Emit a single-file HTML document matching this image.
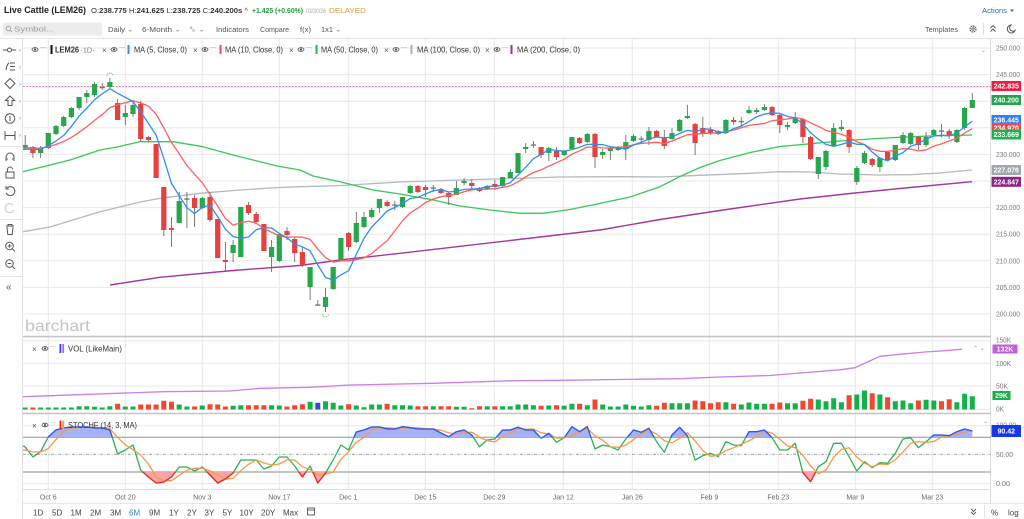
<!DOCTYPE html>
<html><head><meta charset="utf-8">
<style>
html,body{margin:0;padding:0;background:#fff;overflow:hidden;}
svg{display:block;font-family:"Liberation Sans",sans-serif;}
</style></head><body>
<svg width="1024" height="519" viewBox="0 0 1024 519" xmlns="http://www.w3.org/2000/svg">
<defs>
<clipPath id="plot"><rect x="23" y="39" width="968" height="297"/></clipPath>
<clipPath id="above80"><rect x="23" y="414" width="968" height="23.3"/></clipPath>
<clipPath id="below20"><rect x="23" y="472" width="968" height="17"/></clipPath>
<polyline id="kp" points="23,446 25.2,447 32.9,457 40.6,451.7 48.3,437 56,430 63.7,428 71.4,427 79.1,427 86.8,427 94.5,428 102.2,428 109.9,430 117.6,454 125.3,450 133,445 140.7,470 148.4,477 156.1,483 163.8,482 171.5,477 179.2,467 186.9,467 194.6,471 202.3,467 210,475 217.7,483 225.4,479 233.1,473 240.8,460 248.5,460 256.2,460 263.9,469 271.6,466 279.3,457 287,457 294.7,466 302.4,477 310.1,466 317.8,483 325.5,473 333.2,460 340.9,445 348.6,450 356.3,432 364,430 371.7,427 379.4,427 387.1,429 394.8,429 402.5,426.7 410.2,427.7 417.9,429 425.6,429 433.3,429 441,433 448.7,436.7 456.4,431.7 464.1,430 471.8,435 479.5,446.7 487.2,440 494.9,439 502.6,430 510.3,430 518,427.3 525.7,430 533.4,430 541.1,438.3 548.8,433.3 556.5,442.3 564.2,437.7 571.9,426.7 579.6,431.7 587.3,426.7 595,449 602.7,445 610.4,446.7 618.1,450 625.8,439 633.5,430 641.2,432.3 648.9,428.3 656.6,441.7 664.3,452.3 672,435 679.7,427.3 687.4,435.7 695.1,460 702.8,455.7 710.5,453.3 718.2,456.7 725.9,441.7 733.6,445 741.3,445.7 749,431.7 756.7,431.7 764.4,430 772.1,437.7 779.8,450 787.5,450 795.2,443.3 802.9,472.7 810.6,481.7 818.3,466.7 826,461.7 833.7,443.3 841.4,443.3 849.1,456.7 856.8,471 864.5,461.7 872.2,467.7 879.9,462.7 887.6,463.3 895.3,453.3 903,439 910.7,437.7 918.4,447.7 926.1,441.7 933.8,435 941.5,435 949.2,435.7 956.9,431.7 964.6,429 972.3,431"/>
</defs>
<rect width="1024" height="519" fill="#fff"/>

<!-- header -->
<text x="4" y="13" font-size="9.5" font-weight="bold" fill="#222" textLength="82" lengthAdjust="spacingAndGlyphs">Live Cattle (LEM26)</text>
<text x="91" y="13" font-size="7.3" fill="#333" textLength="157" lengthAdjust="spacingAndGlyphs">O:<tspan font-weight="bold">238.775</tspan> H:<tspan font-weight="bold">241.625</tspan> L:<tspan font-weight="bold">238.725</tspan> C:<tspan font-weight="bold">240.200s</tspan> ^</text>
<text x="252" y="13" font-size="7.3" font-weight="bold" fill="#1e9e3e" textLength="51" lengthAdjust="spacingAndGlyphs">+1.425 (+0.60%)</text>
<text x="306" y="13" font-size="6.3" fill="#a8a8a8" textLength="20" lengthAdjust="spacingAndGlyphs">03/30/26</text>
<text x="329" y="13" font-size="7.5" fill="#e0983a" textLength="37" lengthAdjust="spacingAndGlyphs">DELAYED</text>
<text x="982" y="13" font-size="7.5" fill="#2f6db3" textLength="25" lengthAdjust="spacingAndGlyphs">Actions</text>
<path d="M1010,9.5 l4,0 l-2,2.5z" fill="#2f6db3"/>

<!-- toolbar row -->
<rect x="3" y="22.5" width="99" height="13" rx="2" fill="#ececec"/>
<circle cx="8.5" cy="28.5" r="2.3" fill="none" stroke="#999" stroke-width="0.8"/>
<line x1="10.2" y1="30.2" x2="12" y2="32" stroke="#999" stroke-width="0.8"/>
<text x="14" y="31.5" font-size="7" fill="#9a9a9a" textLength="40" lengthAdjust="spacingAndGlyphs">Symbol...</text>
<g font-size="7.5" fill="#555">
<text x="108" y="32" textLength="17" lengthAdjust="spacingAndGlyphs">Daily</text>
<text x="128" y="31.5" font-size="6">⌄</text>
<text x="142" y="32" textLength="30" lengthAdjust="spacingAndGlyphs">6-Month</text>
<text x="175" y="31.5" font-size="6">⌄</text>
<text x="190" y="31" font-size="6">⁰ₒ</text>
<text x="199" y="31.5" font-size="6">⌄</text>
<text x="216" y="32" textLength="33" lengthAdjust="spacingAndGlyphs">Indicators</text>
<text x="260" y="32" textLength="29" lengthAdjust="spacingAndGlyphs">Compare</text>
<text x="300" y="32" textLength="11" lengthAdjust="spacingAndGlyphs">f(x)</text>
<text x="321" y="32" textLength="12" lengthAdjust="spacingAndGlyphs">1x1</text>
<text x="336" y="31.5" font-size="6">⌄</text>
<text x="925" y="32" textLength="33" lengthAdjust="spacingAndGlyphs">Templates</text>
</g>
<circle cx="973" cy="29" r="3" fill="none" stroke="#555" stroke-width="1.2" stroke-dasharray="1.5,0.8"/>
<circle cx="973" cy="29" r="1.2" fill="none" stroke="#555" stroke-width="0.8"/>
<line x1="983.5" y1="23" x2="983.5" y2="35" stroke="#ddd"/>
<path d="M990.5,28 l2.5,-2.5 l2.5,2.5 M990.5,31.5 l2.5,-2.5 l2.5,2.5" fill="none" stroke="#555" stroke-width="0.9"/>
<path d="M1011,25 a4,4 0 1 0 4,5.5 a3,3 0 0 1 -4,-5.5z" fill="none" stroke="#555" stroke-width="1"/>

<!-- frame lines -->
<line x1="0" y1="38.5" x2="1024" y2="38.5" stroke="#e2e2e2"/>
<line x1="22.5" y1="38.5" x2="22.5" y2="519" stroke="#e2e2e2"/>

<!-- grid -->
<g stroke="#e8e8e8" stroke-width="1">
<line x1="48.3" y1="39" x2="48.3" y2="489"/><line x1="125.3" y1="39" x2="125.3" y2="489"/>
<line x1="202.3" y1="39" x2="202.3" y2="489"/><line x1="279.3" y1="39" x2="279.3" y2="489"/>
<line x1="348.3" y1="39" x2="348.3" y2="489"/><line x1="425.3" y1="39" x2="425.3" y2="489"/>
<line x1="494.3" y1="39" x2="494.3" y2="489"/><line x1="563.3" y1="39" x2="563.3" y2="489"/>
<line x1="632.3" y1="39" x2="632.3" y2="489"/><line x1="709.3" y1="39" x2="709.3" y2="489"/>
<line x1="778.3" y1="39" x2="778.3" y2="489"/><line x1="855.3" y1="39" x2="855.3" y2="489"/>
<line x1="932.3" y1="39" x2="932.3" y2="489"/>
<line x1="23" y1="48" x2="991" y2="48"/><line x1="23" y1="74.6" x2="991" y2="74.6"/>
<line x1="23" y1="101.2" x2="991" y2="101.2"/><line x1="23" y1="127.8" x2="991" y2="127.8"/>
<line x1="23" y1="154.4" x2="991" y2="154.4"/><line x1="23" y1="181" x2="991" y2="181"/>
<line x1="23" y1="207.6" x2="991" y2="207.6"/><line x1="23" y1="234.2" x2="991" y2="234.2"/>
<line x1="23" y1="260.8" x2="991" y2="260.8"/><line x1="23" y1="287.4" x2="991" y2="287.4"/>
<line x1="23" y1="314" x2="991" y2="314"/>
<line x1="23" y1="340.7" x2="991" y2="340.7"/><line x1="23" y1="363.3" x2="991" y2="363.3"/>
<line x1="23" y1="386" x2="991" y2="386"/><line x1="23" y1="409.5" x2="991" y2="409.5"/>
<line x1="23" y1="425.8" x2="991" y2="425.8"/><line x1="23" y1="483.6" x2="991" y2="483.6"/>
</g>
<line x1="990.5" y1="39" x2="990.5" y2="503" stroke="#dedede"/>
<line x1="23" y1="336.5" x2="991" y2="336.5" stroke="#c4c4c4" stroke-width="1.6"/>
<line x1="23" y1="413.5" x2="991" y2="413.5" stroke="#c4c4c4" stroke-width="1.6"/>
<line x1="23" y1="489.5" x2="991" y2="489.5" stroke="#e0e0e0"/>
<line x1="23" y1="503.5" x2="1024" y2="503.5" stroke="#e6e6e6"/>

<!-- stoch reference lines -->
<line x1="23" y1="437.3" x2="991" y2="437.3" stroke="#8c8c8c" stroke-width="1"/>
<line x1="23" y1="454.3" x2="991" y2="454.3" stroke="#9a9a9a" stroke-width="0.8" stroke-dasharray="3,1.5,1,1.5"/>
<line x1="23" y1="472" x2="991" y2="472" stroke="#bdbdbd" stroke-width="1.8"/>

<!-- watermark -->
<text x="25" y="331" font-size="16" fill="#c4c4c4" textLength="65" lengthAdjust="spacingAndGlyphs">barchart</text>

<!-- dotted high line -->
<line x1="23" y1="86.5" x2="991" y2="86.5" stroke="#ff6f8c" stroke-width="0.9" stroke-dasharray="1.6,1.6"/>

<!-- main plot -->
<g clip-path="url(#plot)" fill="none" stroke-linejoin="round">
<polyline stroke="#b3b9be" stroke-width="1.3" points="23,231.7 50,227 100,211.7 140,202 160,198.3 200,193.3 240,190 270,188 300,186.7 340,185.6 400,182 460,180 520,178.3 560,177 620,176.7 660,177 700,175.3 750,173.3 780,171.7 810,172 840,174 880,175 910,174.7 940,173 972,170"/>
<polyline stroke="#a3399e" stroke-width="1.4" points="110,285 160,277.3 233,270.5 300,265.5 340,260 400,253.3 500,241.7 600,230 660,219.5 730,209 800,199 850,193.5 910,187.5 972,181.7"/>
<polyline stroke="#3cc55a" stroke-width="1.3" points="23,171.7 50,165 70,160 100,150 117,147 140,141.7 173,141.7 203,146.7 233,155 277,166 300,170 313,176 340,181.7 373,190 400,194 430,199.3 460,206 490,210 520,213.3 543,213.3 570,209.5 597,204 630,197 660,186.7 680,176.5 700,167.5 720,160.5 750,152.5 780,146.5 810,143.8 840,141 870,139 900,137.2 930,136 972,135"/>
<path stroke="#6f6f6f" stroke-width="0.9" d="M25.2,135V150M32.9,146V158M40.6,146V158M48.3,133V149M56,125V135M63.7,116V127M71.4,107V118M79.1,97V110M86.8,90V103M94.5,82V97M102.2,83V90M109.9,78V88M117.6,99V120M125.3,105V125M133,100V117M140.7,101V141M148.4,136V142M156.1,144V178M163.8,187V236M171.5,217V247M179.2,192V223M186.9,192V228M194.6,195V227M202.3,197V209M210,192V222M217.7,219V258M225.4,242V272M233.1,240V262M240.8,207V257M248.5,202V215M256.2,212V223M263.9,224V251M271.6,240V272M279.3,234V262M287,227V240M294.7,237V262M302.4,247V267M310.1,267V300M317.8,300V306M325.5,288V312M333.2,267V290M340.9,238V261M348.6,232V251M356.3,212V243M364,212V228M371.7,208V218M379.4,199V213M387.1,200V207M394.8,201V210M402.5,197V208M410.2,185V194M417.9,185V193M425.6,185V197M433.3,185V192M441,188V194M448.7,192V205M456.4,181V195M464.1,178V185M471.8,179V190M479.5,187V192M487.2,185V190M494.9,180V190M502.6,177V187M510.3,169V178M518,153V173M525.7,143V153M533.4,141V148M541.1,147V158M548.8,147V161M556.5,147V160M564.2,150V156M571.9,137V150M579.6,137V144M587.3,133V143M595,133V168M602.7,149V159M610.4,147V160M618.1,146V151M625.8,135V160M633.5,134V142M641.2,136V143M648.9,127V145M656.6,130V138M664.3,130V149M672,128V140M679.7,119V132M687.4,105V119M695.1,123V155M702.8,117V137M710.5,127V135M718.2,130V135M725.9,119V134M733.6,117V125M741.3,117V126M749,106V114M756.7,108V114M764.4,104V111M772.1,106V116M779.8,114V133M787.5,122V130M795.2,112V124M802.9,118V143M810.6,136V160M818.3,157V179M826,150V170M833.7,123V147M841.4,120V131M849.1,129V153M856.8,166V185M864.5,151V164M872.2,158V167M879.9,157V172M887.6,151V161M895.3,145V161M903,132V144M910.7,132V145M918.4,136V150M926.1,132V147M933.8,129V136M941.5,124V137M949.2,129V139M956.9,129V143M964.6,107V130M972.3,93V108"/>
<path stroke="none" fill="#27a74b" d="M22.6,145h5.2v3h-5.2zM38,148h5.2v5h-5.2zM45.7,133h5.2v15h-5.2zM53.4,126h5.2v8h-5.2zM61.1,117h5.2v9h-5.2zM68.8,108h5.2v9h-5.2zM76.5,97h5.2v11h-5.2zM84.2,93h5.2v4h-5.2zM91.9,84h5.2v11h-5.2zM107.3,82h5.2v5h-5.2zM122.7,113h5.2v4h-5.2zM130.4,105h5.2v9h-5.2zM176.6,201h5.2v22h-5.2zM199.7,198h5.2v10h-5.2zM230.5,245h5.2v8h-5.2zM238.2,207h5.2v50h-5.2zM269,247h5.2v10h-5.2zM276.7,234h5.2v27h-5.2zM307.5,267h5.2v20h-5.2zM322.9,297h5.2v10h-5.2zM330.6,267h5.2v22h-5.2zM338.3,238h5.2v22h-5.2zM353.7,223h5.2v19h-5.2zM361.4,217h5.2v10h-5.2zM369.1,210h5.2v7h-5.2zM376.8,199h5.2v9h-5.2zM399.9,197h5.2v10h-5.2zM407.6,186h5.2v7h-5.2zM453.8,188h5.2v7h-5.2zM461.5,181h5.2v2h-5.2zM484.6,186h5.2v3h-5.2zM500,177h5.2v9h-5.2zM507.7,172h5.2v6h-5.2zM515.4,153h5.2v20h-5.2zM523.1,147h5.2v2h-5.2zM546.2,148h5.2v5h-5.2zM561.6,151h5.2v4h-5.2zM569.3,137h5.2v12h-5.2zM584.7,134h5.2v8h-5.2zM600.1,152h5.2v3h-5.2zM607.8,148h5.2v3h-5.2zM615.5,147h5.2v3h-5.2zM623.2,142h5.2v7h-5.2zM630.9,136h5.2v5h-5.2zM646.3,131h5.2v9h-5.2zM669.4,133h5.2v6h-5.2zM677.1,120h5.2v11h-5.2zM684.8,116h5.2v2h-5.2zM723.3,120h5.2v13h-5.2zM746.4,110h5.2v3h-5.2zM754.1,110h5.2v2h-5.2zM761.8,107h5.2v3h-5.2zM784.9,125h5.2v2h-5.2zM792.6,118h5.2v5h-5.2zM815.7,157h5.2v17h-5.2zM823.4,151h5.2v16h-5.2zM831.1,128h5.2v18h-5.2zM838.8,127h5.2v2h-5.2zM854.2,168h5.2v14h-5.2zM861.9,153h5.2v10h-5.2zM877.3,158h5.2v9h-5.2zM892.7,145h5.2v15h-5.2zM900.4,135h5.2v8h-5.2zM908.1,133h5.2v11h-5.2zM923.5,137h5.2v8h-5.2zM931.2,130h5.2v5h-5.2zM954.3,130h5.2v12h-5.2zM962,108h5.2v20h-5.2zM969.7,100h5.2v8h-5.2z"/>
<path stroke="none" fill="#e8403f" d="M30.3,147h5.2v6h-5.2zM115,103h5.2v17h-5.2zM138.1,104h5.2v35h-5.2zM145.8,137h5.2v3h-5.2zM153.5,144h5.2v34h-5.2zM161.2,187h5.2v43h-5.2zM168.9,228h5.2v2h-5.2zM192,198h5.2v10h-5.2zM207.4,197h5.2v23h-5.2zM215.1,219h5.2v39h-5.2zM222.8,260h5.2v2h-5.2zM245.9,205h5.2v8h-5.2zM253.6,214h5.2v8h-5.2zM261.3,224h5.2v27h-5.2zM284.4,231h5.2v4h-5.2zM292.1,239h5.2v14h-5.2zM299.8,252h5.2v13h-5.2zM346,233h5.2v14h-5.2zM384.5,202h5.2v4h-5.2zM415.3,186h5.2v6h-5.2zM423,187h5.2v3h-5.2zM438.4,189h5.2v4h-5.2zM446.1,193h5.2v4h-5.2zM469.2,183h5.2v3h-5.2zM476.9,188h5.2v3h-5.2zM492.3,184h5.2v3h-5.2zM538.5,147h5.2v8h-5.2zM553.9,151h5.2v6h-5.2zM577,138h5.2v5h-5.2zM592.4,134h5.2v23h-5.2zM654,131h5.2v6h-5.2zM661.7,137h5.2v9h-5.2zM692.5,124h5.2v19h-5.2zM700.2,128h5.2v6h-5.2zM707.9,130h5.2v3h-5.2zM715.6,131h5.2v3h-5.2zM731,120h5.2v2h-5.2zM769.5,107h5.2v8h-5.2zM777.2,115h5.2v10h-5.2zM800.3,119h5.2v18h-5.2zM808,137h5.2v22h-5.2zM846.5,130h5.2v17h-5.2zM869.6,159h5.2v6h-5.2zM885,152h5.2v8h-5.2zM915.8,137h5.2v8h-5.2zM946.6,131h5.2v5h-5.2z"/>
<path stroke="none" fill="#777" d="M99.6,86.9h5.2v1.3h-5.2zM184.3,198.4h5.2v1.3h-5.2zM315.2,304.4h5.2v1.3h-5.2zM392.2,204.4h5.2v1.3h-5.2zM430.7,187.4h5.2v1.3h-5.2zM530.8,144.4h5.2v1.3h-5.2zM638.6,138.4h5.2v1.3h-5.2zM738.7,120.9h5.2v1.3h-5.2zM938.9,130.4h5.2v1.3h-5.2z"/>
<polyline stroke="#ff5e5e" stroke-width="1.3" points="23,147.7 25.2,147.7 32.9,148.2 40.6,148.2 48.3,146.7 56,144.5 63.7,141.4 71.4,137.4 79.1,132.3 86.8,126.8 94.5,120.4 102.2,114.7 109.9,107.6 117.6,104.8 125.3,102.8 133,100.7 140.7,102.9 148.4,106.1 156.1,114.2 163.8,127.9 171.5,142.5 179.2,153.8 186.9,165.5 194.6,174.3 202.3,182.8 210,194.3 217.7,206.2 225.4,218.4 233.1,225.1 240.8,222.8 248.5,221.1 256.2,223.2 263.9,228.4 271.6,232.3 279.3,235.9 287,237.4 294.7,236.9 302.4,237.2 310.1,239.4 317.8,249.2 325.5,257.6 333.2,262.1 340.9,260.8 348.6,260.8 356.3,259.7 364,257.9 371.7,253.6 379.4,247 387.1,240.9 394.8,230.9 402.5,220.9 410.2,212.8 417.9,208.2 425.6,202.5 433.3,199 441,196.6 448.7,195.3 456.4,194.2 464.1,191.7 471.8,189.8 479.5,189.2 487.2,189.2 494.9,188.7 502.6,187.4 510.3,185.8 518,181.8 525.7,176.8 533.4,172.5 541.1,169.9 548.8,166.1 556.5,162.7 564.2,159.2 571.9,154.2 579.6,150.8 587.3,147 595,147.4 602.7,147.9 610.4,148.2 618.1,147.4 625.8,146.8 633.5,144.7 641.2,143.5 648.9,142.9 656.6,142.3 664.3,143.5 672,141.1 679.7,137.9 687.4,134.7 695.1,134.3 702.8,133.5 710.5,133.2 718.2,132.7 725.9,131.6 733.6,130.1 741.3,127.7 749,125.4 756.7,124.4 764.4,123.5 772.1,120.7 779.8,119.8 787.5,119 795.2,117.4 802.9,119.1 810.6,122.8 818.3,126.3 826,130.4 833.7,132.2 841.4,134.2 849.1,137.4 856.8,141.7 864.5,144.5 872.2,149.2 879.9,151.3 887.6,151.4 895.3,150.2 903,148.6 910.7,149.1 918.4,150.9 926.1,149.9 933.8,146.1 941.5,143.9 949.2,141 956.9,138.2 964.6,133 972.3,128.5"/>
<polyline stroke="#2f8fef" stroke-width="1.3" points="23,149.5 25.2,149 32.9,149.6 40.6,149.2 48.3,145.8 56,141 63.7,135.4 71.4,126.4 79.1,116.2 86.8,108.2 94.5,99.8 102.2,93.9 109.9,88.7 117.6,93.3 125.3,97.3 133,101.5 140.7,111.8 148.4,123.4 156.1,135 163.8,158.4 171.5,183.4 179.2,195.8 186.9,207.6 194.6,213.6 202.3,207.2 210,205.2 217.7,216.6 225.4,229.2 233.1,236.6 240.8,238.4 248.5,237 256.2,229.8 263.9,227.6 271.6,228 279.3,233.4 287,237.8 294.7,244 302.4,246.8 310.1,250.8 317.8,265 325.5,277.4 333.2,280.2 340.9,274.8 348.6,270.8 356.3,254.4 364,238.4 371.7,227 379.4,219.2 387.1,211 394.8,207.4 402.5,203.4 410.2,198.6 417.9,197.2 425.6,194 433.3,190.6 441,189.8 448.7,192 456.4,191.2 464.1,189.4 471.8,189 479.5,188.6 487.2,186.4 494.9,186.2 502.6,185.4 510.3,182.6 518,175 525.7,167.2 533.4,158.8 541.1,154.4 548.8,149.6 556.5,150.4 564.2,151.2 571.9,149.6 579.6,147.2 587.3,144.4 595,144.4 602.7,144.6 610.4,146.8 618.1,147.6 625.8,149.2 633.5,145 641.2,142.4 648.9,139 656.6,137 664.3,137.8 672,137.2 679.7,133.4 687.4,130.4 695.1,131.6 702.8,129.2 710.5,129.2 718.2,132 725.9,132.8 733.6,128.6 741.3,126.1 749,121.5 756.7,116.7 764.4,114.1 772.1,112.7 779.8,113.4 787.5,116.4 795.2,118 802.9,124 810.6,132.8 818.3,139.2 826,144.4 833.7,146.4 841.4,144.4 849.1,142 856.8,144.2 864.5,144.6 872.2,152 879.9,158.2 887.6,160.8 895.3,156.2 903,152.6 910.7,146.2 918.4,143.6 926.1,139 933.8,136 941.5,135.2 949.2,135.8 956.9,132.8 964.6,127 972.3,121"/>
<path d="M107,76 a3,3 0 0 1 6,0" stroke="#44c070" stroke-width="0.9" stroke-dasharray="1,0.8"/>
<path d="M322.5,314 a3,3 0 0 0 6,0" stroke="#44c070" stroke-width="0.9" stroke-dasharray="1,0.8"/>
</g>

<!-- volume bars -->
<path fill="#14b04a" d="M22.7,407.5h5V409.5h-5zM38.1,407.5h5V409.5h-5zM45.8,407.5h5V409.5h-5zM53.5,407.5h5V409.5h-5zM61.2,407.5h5V409.5h-5zM68.9,407.5h5V409.5h-5zM76.6,406.2h5V409.5h-5zM84.3,406.2h5V409.5h-5zM92,406.8h5V409.5h-5zM99.7,407.5h5V409.5h-5zM107.4,406.2h5V409.5h-5zM122.8,406.5h5V409.5h-5zM130.5,406.5h5V409.5h-5zM176.7,404.5h5V409.5h-5zM184.4,406.5h5V409.5h-5zM199.8,405.5h5V409.5h-5zM230.6,405.8h5V409.5h-5zM238.3,405.2h5V409.5h-5zM269.1,405.2h5V409.5h-5zM276.8,405.5h5V409.5h-5zM307.6,401.8h5V409.5h-5zM323,401.2h5V409.5h-5zM330.7,402.8h5V409.5h-5zM338.4,405.5h5V409.5h-5zM353.8,405.5h5V409.5h-5zM361.5,407.2h5V409.5h-5zM369.2,404.5h5V409.5h-5zM376.9,404.5h5V409.5h-5zM392.3,405.2h5V409.5h-5zM400,405.2h5V409.5h-5zM407.7,405.5h5V409.5h-5zM430.8,406.2h5V409.5h-5zM453.9,406.8h5V409.5h-5zM461.6,406.8h5V409.5h-5zM484.7,406.2h5V409.5h-5zM500.1,406.2h5V409.5h-5zM507.8,406.2h5V409.5h-5zM515.5,404.5h5V409.5h-5zM523.2,404.5h5V409.5h-5zM530.9,405.2h5V409.5h-5zM546.3,405.5h5V409.5h-5zM561.7,405.8h5V409.5h-5zM569.4,403.8h5V409.5h-5zM584.8,405.2h5V409.5h-5zM600.2,404.5h5V409.5h-5zM607.9,406.5h5V409.5h-5zM615.6,406.5h5V409.5h-5zM623.3,404.5h5V409.5h-5zM631,405.8h5V409.5h-5zM638.7,406.5h5V409.5h-5zM646.4,405.2h5V409.5h-5zM669.5,403.2h5V409.5h-5zM677.2,403.2h5V409.5h-5zM684.9,403.2h5V409.5h-5zM723.4,402.2h5V409.5h-5zM738.8,404.5h5V409.5h-5zM746.5,402.5h5V409.5h-5zM754.2,403.8h5V409.5h-5zM761.9,403.8h5V409.5h-5zM785,403.2h5V409.5h-5zM792.7,403.2h5V409.5h-5zM815.8,399.5h5V409.5h-5zM823.5,401.2h5V409.5h-5zM831.2,398.2h5V409.5h-5zM838.9,402.2h5V409.5h-5zM854.3,394.5h5V409.5h-5zM862,390.5h5V409.5h-5zM877.4,394.5h5V409.5h-5zM892.8,401.2h5V409.5h-5zM900.5,400.5h5V409.5h-5zM908.2,403.2h5V409.5h-5zM923.6,399.8h5V409.5h-5zM931.3,400.5h5V409.5h-5zM954.4,402.2h5V409.5h-5zM962.1,393.8h5V409.5h-5zM969.8,396.2h5V409.5h-5z"/>
<path fill="#f0472f" d="M30.4,407.5h5V409.5h-5zM115.1,403.8h5V409.5h-5zM138.2,404.5h5V409.5h-5zM145.9,404.5h5V409.5h-5zM153.6,404.5h5V409.5h-5zM161.3,400.8h5V409.5h-5zM169,401.8h5V409.5h-5zM192.1,406.5h5V409.5h-5zM207.5,404.2h5V409.5h-5zM215.2,404.5h5V409.5h-5zM222.9,406.5h5V409.5h-5zM246,405.2h5V409.5h-5zM253.7,405.2h5V409.5h-5zM261.4,405.2h5V409.5h-5zM284.5,406.5h5V409.5h-5zM292.2,405.2h5V409.5h-5zM299.9,404.2h5V409.5h-5zM346.1,404.2h5V409.5h-5zM384.6,403.8h5V409.5h-5zM415.4,406.2h5V409.5h-5zM423.1,406.2h5V409.5h-5zM438.5,406.2h5V409.5h-5zM446.2,406.2h5V409.5h-5zM469.3,408.2h5V409.5h-5zM477,406.2h5V409.5h-5zM492.4,406.2h5V409.5h-5zM538.6,405.8h5V409.5h-5zM554,405.2h5V409.5h-5zM577.1,403.8h5V409.5h-5zM592.5,399.5h5V409.5h-5zM654.1,405.8h5V409.5h-5zM661.8,402.8h5V409.5h-5zM692.6,400.5h5V409.5h-5zM700.3,401.2h5V409.5h-5zM708,403.2h5V409.5h-5zM715.7,402.2h5V409.5h-5zM731.1,403.8h5V409.5h-5zM769.6,403.8h5V409.5h-5zM777.3,402.5h5V409.5h-5zM800.4,400.8h5V409.5h-5zM808.1,398.8h5V409.5h-5zM846.6,395.2h5V409.5h-5zM869.7,393.2h5V409.5h-5zM885.1,397.2h5V409.5h-5zM915.9,400.5h5V409.5h-5zM939,401.2h5V409.5h-5zM946.7,399.2h5V409.5h-5z"/>
<path fill="#2b4fd8" d="M315.3,402.8h5V409.5h-5z"/>
<polyline fill="none" stroke="#cc7fe6" stroke-width="1.3" points="23,396.7 163,391.7 230,391 260,388.3 310,387.3 350,385 433,383.3 512,380.7 560,380.3 620,379.5 680,378.7 720,377 770,375.5 800,373 840,369.8 855,367.7 880,356.3 900,354.3 925,352 945,350.7 962,349.2"/>

<!-- stochastic -->
<polygon clip-path="url(#above80)" fill="#a7b2f6" points="23,446 25.2,447 32.9,457 40.6,451.7 48.3,437 56,430 63.7,428 71.4,427 79.1,427 86.8,427 94.5,428 102.2,428 109.9,430 117.6,454 125.3,450 133,445 140.7,470 148.4,477 156.1,483 163.8,482 171.5,477 179.2,467 186.9,467 194.6,471 202.3,467 210,475 217.7,483 225.4,479 233.1,473 240.8,460 248.5,460 256.2,460 263.9,469 271.6,466 279.3,457 287,457 294.7,466 302.4,477 310.1,466 317.8,483 325.5,473 333.2,460 340.9,445 348.6,450 356.3,432 364,430 371.7,427 379.4,427 387.1,429 394.8,429 402.5,426.7 410.2,427.7 417.9,429 425.6,429 433.3,429 441,433 448.7,436.7 456.4,431.7 464.1,430 471.8,435 479.5,446.7 487.2,440 494.9,439 502.6,430 510.3,430 518,427.3 525.7,430 533.4,430 541.1,438.3 548.8,433.3 556.5,442.3 564.2,437.7 571.9,426.7 579.6,431.7 587.3,426.7 595,449 602.7,445 610.4,446.7 618.1,450 625.8,439 633.5,430 641.2,432.3 648.9,428.3 656.6,441.7 664.3,452.3 672,435 679.7,427.3 687.4,435.7 695.1,460 702.8,455.7 710.5,453.3 718.2,456.7 725.9,441.7 733.6,445 741.3,445.7 749,431.7 756.7,431.7 764.4,430 772.1,437.7 779.8,450 787.5,450 795.2,443.3 802.9,472.7 810.6,481.7 818.3,466.7 826,461.7 833.7,443.3 841.4,443.3 849.1,456.7 856.8,471 864.5,461.7 872.2,467.7 879.9,462.7 887.6,463.3 895.3,453.3 903,439 910.7,437.7 918.4,447.7 926.1,441.7 933.8,435 941.5,435 949.2,435.7 956.9,431.7 964.6,429 972.3,431 972.3,437.3 23,437.3"/>
<polygon clip-path="url(#below20)" fill="#f6a4aa" points="23,446 25.2,447 32.9,457 40.6,451.7 48.3,437 56,430 63.7,428 71.4,427 79.1,427 86.8,427 94.5,428 102.2,428 109.9,430 117.6,454 125.3,450 133,445 140.7,470 148.4,477 156.1,483 163.8,482 171.5,477 179.2,467 186.9,467 194.6,471 202.3,467 210,475 217.7,483 225.4,479 233.1,473 240.8,460 248.5,460 256.2,460 263.9,469 271.6,466 279.3,457 287,457 294.7,466 302.4,477 310.1,466 317.8,483 325.5,473 333.2,460 340.9,445 348.6,450 356.3,432 364,430 371.7,427 379.4,427 387.1,429 394.8,429 402.5,426.7 410.2,427.7 417.9,429 425.6,429 433.3,429 441,433 448.7,436.7 456.4,431.7 464.1,430 471.8,435 479.5,446.7 487.2,440 494.9,439 502.6,430 510.3,430 518,427.3 525.7,430 533.4,430 541.1,438.3 548.8,433.3 556.5,442.3 564.2,437.7 571.9,426.7 579.6,431.7 587.3,426.7 595,449 602.7,445 610.4,446.7 618.1,450 625.8,439 633.5,430 641.2,432.3 648.9,428.3 656.6,441.7 664.3,452.3 672,435 679.7,427.3 687.4,435.7 695.1,460 702.8,455.7 710.5,453.3 718.2,456.7 725.9,441.7 733.6,445 741.3,445.7 749,431.7 756.7,431.7 764.4,430 772.1,437.7 779.8,450 787.5,450 795.2,443.3 802.9,472.7 810.6,481.7 818.3,466.7 826,461.7 833.7,443.3 841.4,443.3 849.1,456.7 856.8,471 864.5,461.7 872.2,467.7 879.9,462.7 887.6,463.3 895.3,453.3 903,439 910.7,437.7 918.4,447.7 926.1,441.7 933.8,435 941.5,435 949.2,435.7 956.9,431.7 964.6,429 972.3,431 972.3,472 23,472"/>
<use href="#kp" fill="none" stroke="#2bb34f" stroke-width="1.3" stroke-linejoin="round"/>
<polyline fill="none" stroke="#f5994a" stroke-width="1.3" stroke-linejoin="round" points="23,450 25.2,450 32.9,452 40.6,451.9 48.3,448.6 56,439.6 63.7,431.7 71.4,428.3 79.1,427.3 86.8,427 94.5,427.3 102.2,427.7 109.9,428.7 117.6,437.3 125.3,444.7 133,449.7 140.7,455 148.4,464 156.1,476.7 163.8,480.7 171.5,480.7 179.2,475.3 186.9,470.3 194.6,468.3 202.3,468.3 210,471 217.7,475 225.4,479 233.1,478.3 240.8,470.7 248.5,464.3 256.2,460 263.9,463 271.6,465 279.3,464 287,460 294.7,460 302.4,466.7 310.1,469.7 317.8,475.3 325.5,474 333.2,472 340.9,459.3 348.6,451.7 356.3,442.3 364,437.3 371.7,429.7 379.4,428 387.1,427.7 394.8,428.3 402.5,428.2 410.2,427.8 417.9,427.8 425.6,428.6 433.3,429 441,430.3 448.7,432.9 456.4,433.8 464.1,432.8 471.8,432.2 479.5,437.2 487.2,440.6 494.9,441.9 502.6,436.3 510.3,433 518,429.1 525.7,429.1 533.4,429.1 541.1,432.8 548.8,433.9 556.5,438 564.2,437.8 571.9,435.6 579.6,432 587.3,428.4 595,435.8 602.7,440.2 610.4,446.9 618.1,447.2 625.8,445.2 633.5,439.7 641.2,433.8 648.9,430.2 656.6,434.1 664.3,440.8 672,443 679.7,438.2 687.4,432.7 695.1,441 702.8,450.5 710.5,456.3 718.2,455.2 725.9,450.6 733.6,447.8 741.3,444.1 749,440.8 756.7,436.4 764.4,431.1 772.1,433.1 779.8,439.2 787.5,445.9 795.2,447.8 802.9,455.3 810.6,465.9 818.3,473.7 826,470 833.7,457.2 841.4,449.4 849.1,447.8 856.8,457 864.5,463.1 872.2,466.8 879.9,464 887.6,464.6 895.3,459.8 903,451.9 910.7,443.3 918.4,441.5 926.1,442.4 933.8,441.5 941.5,437.2 949.2,435.2 956.9,434.1 964.6,432.1 972.3,430.6"/>
<g clip-path="url(#above80)"><use href="#kp" fill="none" stroke="#3353ff" stroke-width="1.3" stroke-linejoin="round"/></g>
<g clip-path="url(#below20)"><use href="#kp" fill="none" stroke="#ff2222" stroke-width="1.3" stroke-linejoin="round"/></g>

<!-- left toolbar icons -->
<g fill="none" stroke="#555" stroke-width="1">
<line x1="3" y1="50" x2="16" y2="50"/><circle cx="9.5" cy="50" r="2" fill="#fff"/>
<path d="M6,70 q1,-6 3,-7 M10,63 h5 M10,66.5 h5 M10,70 h5"/>
<path d="M10,78.5 l5,5 l-5,5 l-5,-5z"/>
<path d="M10,96 l4.5,4.5 h-2.5 v5 h-4 v-5 h-2.5z"/>
<circle cx="10" cy="118.5" r="4.8"/><path d="M10,116 v5"/>
<path d="M5,131 v9 M15,131 v9 M5,135.5 h10"/>
<path d="M6,161 v-4 a4,4 0 0 1 8,0 v4 M6,159 h2 M12,159 h2"/>
<path d="M6,172 h8 v6 h-8z M7.5,172 v-2.5 a2.5,2.5 0 0 1 5,0"/>
<path d="M7,188 a4.5,4.5 0 1 1 -0.8,5"/><path d="M6,186 v3 h3"/>
<path d="M13,205 a4.5,4.5 0 1 0 0.8,5" stroke="#c8c8c8"/>
<path d="M6,226 h8 M8,226 v-1.5 h4 v1.5 M7,227 l0.8,7.5 h4.4 l0.8,-7.5"/>
<circle cx="9.5" cy="246" r="3.8"/><path d="M12.3,248.8 l2.7,2.7 M7.7,246 h3.6 M9.5,244.2 v3.6"/>
<circle cx="9.5" cy="263.5" r="3.8"/><path d="M12.3,266.3 l2.7,2.7 M7.7,263.5 h3.6"/>
</g>
<g fill="#888" font-size="6">
<text x="19" y="52">›</text><text x="19" y="69">›</text><text x="19" y="86">›</text>
<text x="19" y="103">›</text><text x="19" y="120">›</text><text x="19" y="137">›</text>
</g>
<text x="6" y="290" font-size="10" fill="#555">«</text>
<g stroke="#e3e3e3"><line x1="0" y1="146.5" x2="22" y2="146.5"/><line x1="0" y1="219.5" x2="22" y2="219.5"/><line x1="0" y1="276.5" x2="22" y2="276.5"/></g>

<!-- main legend -->
<g font-size="8" fill="#333">
<g fill="none" stroke="#444" stroke-width="0.8">
<ellipse cx="35" cy="49.5" rx="3" ry="1.8"/><ellipse cx="114" cy="49.5" rx="3" ry="1.8"/>
<ellipse cx="205" cy="49.5" rx="3" ry="1.8"/><ellipse cx="301" cy="49.5" rx="3" ry="1.8"/>
<ellipse cx="396" cy="49.5" rx="3" ry="1.8"/><ellipse cx="497" cy="49.5" rx="3" ry="1.8"/>
</g>
<g fill="#444"><circle cx="35" cy="49.5" r="1"/><circle cx="114" cy="49.5" r="1"/><circle cx="205" cy="49.5" r="1"/><circle cx="301" cy="49.5" r="1"/><circle cx="396" cy="49.5" r="1"/><circle cx="497" cy="49.5" r="1"/></g>
<g font-size="6" fill="#666"><text x="40" y="49">···</text><text x="119" y="49">···</text><text x="210" y="49">···</text><text x="306" y="49">···</text><text x="401" y="49">···</text><text x="502" y="49">···</text></g>
<rect x="50.5" y="45" width="2" height="9" fill="#111"/>
<text x="55" y="52.5" font-weight="bold" textLength="24" lengthAdjust="spacingAndGlyphs">LEM26</text>
<text x="80.5" y="52.5" fill="#777" font-size="7" textLength="14" lengthAdjust="spacingAndGlyphs">·1D·</text>
<text x="102" y="53" fill="#555">×</text>
<rect x="127.5" y="45" width="2" height="9" fill="#2f8fef"/>
<text x="134" y="52.5" textLength="53" lengthAdjust="spacingAndGlyphs">MA (5, Close, 0)</text>
<text x="193" y="53" fill="#555">×</text>
<rect x="219.5" y="45" width="2" height="9" fill="#ff4b4b"/>
<text x="225" y="52.5" textLength="58" lengthAdjust="spacingAndGlyphs">MA (10, Close, 0)</text>
<text x="289" y="53" fill="#555">×</text>
<rect x="315.5" y="45" width="2" height="9" fill="#22b94a"/>
<text x="321" y="52.5" textLength="57" lengthAdjust="spacingAndGlyphs">MA (50, Close, 0)</text>
<text x="384" y="53" fill="#555">×</text>
<rect x="410.5" y="45" width="2" height="9" fill="#a9b3ba"/>
<text x="417" y="52.5" textLength="63" lengthAdjust="spacingAndGlyphs">MA (100, Close, 0)</text>
<text x="485" y="53" fill="#555">×</text>
<rect x="510.5" y="45" width="2" height="9" fill="#a0309b"/>
<text x="517" y="52.5" textLength="63" lengthAdjust="spacingAndGlyphs">MA (200, Close, 0)</text>
</g>
<text x="981" y="52" font-size="6" fill="#999">⌄</text>

<!-- volume legend -->
<g font-size="8" fill="#333">
<text x="32" y="352" fill="#555">×</text>
<ellipse cx="45" cy="348.5" rx="3" ry="1.8" fill="none" stroke="#444" stroke-width="0.8"/><circle cx="45" cy="348.5" r="1" fill="#444"/>
<text x="50" y="348" font-size="6" fill="#666">···</text>
<rect x="59.5" y="344" width="1.8" height="9" fill="#2d46d8"/><rect x="62.3" y="344" width="1.8" height="9" fill="#c35de0"/>
<text x="68" y="351.5" textLength="54" lengthAdjust="spacingAndGlyphs">VOL (LikeMain)</text>
</g>
<!-- stoch legend -->
<g font-size="8" fill="#333">
<text x="32" y="428.5" fill="#555">×</text>
<ellipse cx="45" cy="425" rx="3" ry="1.8" fill="none" stroke="#444" stroke-width="0.8"/><circle cx="45" cy="425" r="1" fill="#444"/>
<text x="50" y="424.5" font-size="6" fill="#666">···</text>
<rect x="59.5" y="420.5" width="1.8" height="9" fill="#ff2020"/><rect x="62.3" y="420.5" width="1.8" height="9" fill="#f59a4a"/>
<text x="68" y="428" textLength="69" lengthAdjust="spacingAndGlyphs">STOCHF (14, 3, MA)</text>
</g>

<!-- right axis labels -->
<g font-size="7" fill="#7a7a7a">
<text x="996" y="50.5" textLength="24" lengthAdjust="spacingAndGlyphs">250.000</text>
<text x="996" y="77" textLength="24" lengthAdjust="spacingAndGlyphs">245.000</text>
<text x="996" y="157" textLength="24" lengthAdjust="spacingAndGlyphs">230.000</text>
<text x="996" y="210" textLength="24" lengthAdjust="spacingAndGlyphs">220.000</text>
<text x="996" y="236.7" textLength="24" lengthAdjust="spacingAndGlyphs">215.000</text>
<text x="996" y="263.3" textLength="24" lengthAdjust="spacingAndGlyphs">210.000</text>
<text x="996" y="290" textLength="24" lengthAdjust="spacingAndGlyphs">205.000</text>
<text x="996" y="316.5" textLength="24" lengthAdjust="spacingAndGlyphs">200.000</text>
<text x="996" y="342.5" textLength="15" lengthAdjust="spacingAndGlyphs">150K</text>
<text x="996" y="365.8" textLength="15" lengthAdjust="spacingAndGlyphs">100K</text>
<text x="996" y="388.5" textLength="12" lengthAdjust="spacingAndGlyphs">50K</text>
<text x="996" y="411.5" textLength="8" lengthAdjust="spacingAndGlyphs">0K</text>
<text x="996" y="427.5" textLength="20" lengthAdjust="spacingAndGlyphs">100.00</text>
<text x="996" y="456.8" textLength="17" lengthAdjust="spacingAndGlyphs">50.00</text>
<text x="996" y="486" textLength="14" lengthAdjust="spacingAndGlyphs">0.00</text>
</g>
<g font-size="6" fill="#999"><text x="973" y="350">⌃ ⌄</text><text x="983" y="426">⌃</text></g>

<g font-size="7" font-weight="bold" fill="#fff" text-anchor="middle">
<rect x="991.5" y="81" width="29.5" height="10" fill="#f01c3f"/><text x="1006.3" y="88.6">242.835</text>
<rect x="991.5" y="95" width="29.5" height="10" fill="#1fa54a"/><text x="1006.3" y="102.6">240.200</text>
<rect x="991.5" y="115" width="29.5" height="10" fill="#2d7ff9"/><text x="1006.3" y="122.6">236.445</text>
<rect x="991.5" y="123" width="29.5" height="10" fill="#f5454f"/><text x="1006.3" y="130.6">234.970</text>
<rect x="991.5" y="129.5" width="29.5" height="10" fill="#1db44d"/><text x="1006.3" y="137.1">233.669</text>
<rect x="991.5" y="165" width="29.5" height="10" fill="#9fa8ae"/><text x="1006.3" y="172.6">227.076</text>
<rect x="991.5" y="176.8" width="29.5" height="10" fill="#8e2387"/><text x="1006.3" y="184.4">224.847</text>
<rect x="992.5" y="344.5" width="25" height="9" fill="#c35de0"/><text x="1005" y="351.5">132K</text>
<rect x="992.5" y="391" width="18" height="9" fill="#18b24b"/><text x="1001.5" y="398">29K</text>
<rect x="991.5" y="425" width="29.5" height="12" fill="#1436f5"/><text x="1006.3" y="433.6">90.42</text>
</g>

<!-- date labels -->
<g font-size="7" fill="#666" text-anchor="middle">
<text x="48.3" y="499.5">Oct 6</text><text x="125.3" y="499.5">Oct 20</text><text x="202.3" y="499.5">Nov 3</text>
<text x="279.3" y="499.5">Nov 17</text><text x="348.3" y="499.5">Dec 1</text><text x="425.3" y="499.5">Dec 15</text>
<text x="494.3" y="499.5">Dec 29</text><text x="563.3" y="499.5">Jan 12</text><text x="632.3" y="499.5">Jan 26</text>
<text x="709.3" y="499.5">Feb 9</text><text x="778.3" y="499.5">Feb 23</text><text x="855.3" y="499.5">Mar 9</text>
<text x="932.3" y="499.5">Mar 23</text>
</g>

<!-- bottom bar -->
<g font-size="8" fill="#444">
<text x="33" y="515.5">1D</text><text x="52" y="515.5">5D</text><text x="70.5" y="515.5">1M</text>
<text x="90" y="515.5">2M</text><text x="110" y="515.5">3M</text><text x="129" y="515.5" fill="#2f7fd0">6M</text>
<text x="149" y="515.5">9M</text><text x="169" y="515.5">1Y</text><text x="187" y="515.5">2Y</text>
<text x="204.5" y="515.5">3Y</text><text x="222.5" y="515.5">5Y</text><text x="239.5" y="515.5">10Y</text>
<text x="261" y="515.5">20Y</text><text x="283" y="515.5">Max</text>
<text x="991" y="515.5">%</text><text x="1008" y="515.5">log</text>
</g>
<rect x="307.5" y="508" width="7" height="7" fill="none" stroke="#555" stroke-width="0.9"/>
<line x1="307.5" y1="510" x2="314.5" y2="510" stroke="#555" stroke-width="0.9"/>
<path d="M971,509 l2.5,2.5 l2.5,-2.5 M971,512 l2.5,2.5 l2.5,-2.5" fill="none" stroke="#555" stroke-width="0.9"/>
<line x1="984.5" y1="505" x2="984.5" y2="519" stroke="#e3e3e3"/>
</svg>
</body></html>
